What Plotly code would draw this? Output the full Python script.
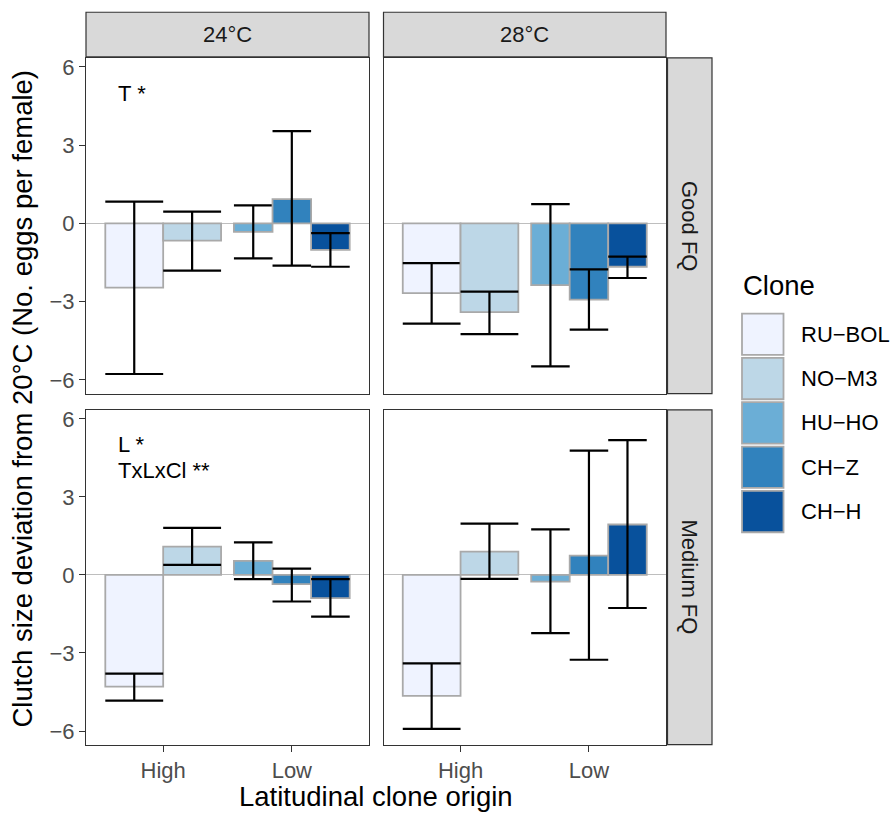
import plotly.graph_objects as go

# ---------------- data ----------------
categories = ["High", "Low"]
clones = ["RU-BOL", "NO-M3", "HU-HO", "CH-Z", "CH-H"]
clone_origin = ["High", "High", "Low", "Low", "Low"]
clone_colors = ["#EFF3FF", "#BDD7E7", "#6BAED6", "#3182BD", "#08519C"]

temps = ["24°C", "28°C"]
food = ["Good FQ", "Medium FQ"]

mean_24_good = [-2.46, -0.66, -0.32, 0.93, -1.01]
lo_24_good = [-5.77, -1.81, -1.34, -1.62, -1.66]
hi_24_good = [0.84, 0.45, 0.69, 3.54, -0.37]

mean_28_good = [-2.67, -3.40, -2.36, -2.92, -1.66]
lo_28_good = [-3.84, -4.24, -5.48, -4.07, -2.09]
hi_28_good = [-1.52, -2.61, 0.74, -1.76, -1.27]

mean_24_med = [-4.29, 1.09, 0.54, -0.35, -0.89]
lo_24_med = [-4.83, 0.39, -0.16, -1.02, -1.60]
hi_24_med = [-3.79, 1.81, 1.25, 0.24, -0.16]

mean_28_med = [-4.65, 0.90, -0.26, 0.74, 1.94]
lo_28_med = [-5.92, -0.15, -2.24, -3.26, -1.27]
hi_28_med = [-3.40, 1.97, 1.75, 4.78, 5.18]

y_ticks = [-6, -3, 0, 3, 6]
y_ticktext = ["\u22126", "\u22123", "0", "3", "6"]

panel_labels = {(0, 0): ["T *"], (1, 0): ["L *", "TxLxCl **"]}

# ---------------- layout geometry ----------------
W, H = 890, 813
col_px = [(86, 369), (383.5, 666)]
row_px = [(55, 392), (408.3, 744.3)]
x_range = [0.4, 2.6]
y_range = [-6.52, 6.35]
FONT = "Liberation Sans, Arial, Helvetica, sans-serif"
BORDER = "#333333"


def px_x(p):
    return p / W


def px_y(p):
    return 1 - p / H


panels = [
    (0, 0, mean_24_good, lo_24_good, hi_24_good),
    (0, 1, mean_28_good, lo_28_good, hi_28_good),
    (1, 0, mean_24_med, lo_24_med, hi_24_med),
    (1, 1, mean_28_med, lo_28_med, hi_28_med),
]

fig = go.Figure()
layout = dict(
    width=W, height=H, autosize=False,
    margin=dict(l=0, r=0, t=0, b=0),
    paper_bgcolor="white", plot_bgcolor="white",
    barmode="overlay", showlegend=False,
    font=dict(family=FONT),
)
annotations = []
shapes = []

for idx, (r, c, m, lo, hi) in enumerate(panels):
    i = idx + 1
    xa = "x" if i == 1 else f"x{i}"
    ya = "y" if i == 1 else f"y{i}"
    x0, x1 = col_px[c]
    y0, y1 = row_px[r]
    ppu = (x1 - x0) / (x_range[1] - x_range[0])
    for j, clone in enumerate(clones):
        grp = clone_origin[j]
        members = [k for k in range(len(clones)) if clone_origin[k] == grp]
        n = len(members)
        k = members.index(j)
        bw = 0.9 / n
        gpos = categories.index(grp) + 1
        xpos = gpos - 0.45 + bw * (k + 0.5)
        fig.add_trace(go.Bar(
            x=[xpos], y=[m[j]], width=[bw], name=clone,
            marker=dict(color=clone_colors[j], line=dict(color="#A9A9A9", width=1.8)),
            error_y=dict(type="data", symmetric=False,
                         array=[hi[j] - m[j]], arrayminus=[m[j] - lo[j]],
                         color="black", thickness=2.2, width=bw * ppu / 2),
            xaxis=xa, yaxis=ya, showlegend=False, hoverinfo="x+y",
        ))
    xkey = "xaxis" if i == 1 else f"xaxis{i}"
    ykey = "yaxis" if i == 1 else f"yaxis{i}"
    layout[xkey] = dict(
        domain=[px_x(x0), px_x(x1)], range=x_range, anchor=ya,
        tickmode="array", tickvals=[1, 2], ticktext=categories,
        showticklabels=(r == 1), ticks="outside" if r == 1 else "",
        ticklen=6, tickwidth=1.2, tickcolor=BORDER,
        tickfont=dict(size=22, color="#4D4D4D", family=FONT),
        showline=True, mirror=True, linecolor=BORDER, linewidth=1.2,
        showgrid=False, zeroline=False, fixedrange=True,
    )
    layout[ykey] = dict(
        domain=[px_y(y1), px_y(y0)], range=y_range, anchor=xa,
        tickmode="array", tickvals=y_ticks, ticktext=y_ticktext,
        showticklabels=(c == 0), ticks="outside" if c == 0 else "",
        ticklen=6, tickwidth=1.2, tickcolor=BORDER,
        tickfont=dict(size=22, color="#4D4D4D", family=FONT),
        showline=True, mirror=True, linecolor=BORDER, linewidth=1.2,
        showgrid=False, zeroline=True, zerolinecolor="#BEBEBE", zerolinewidth=1.3,
        fixedrange=True,
    )
    for li, txt in enumerate(panel_labels.get((r, c), [])):
        annotations.append(dict(
            x=0.63, y=5.0 - li, xref=xa, yref=ya, text=txt, showarrow=False,
            xanchor="left", yanchor="middle",
            font=dict(size=22, color="black", family=FONT),
        ))

# strips on top (temperature)
for c, t in enumerate(temps):
    x0, x1 = col_px[c]
    shapes.append(dict(type="rect", xref="paper", yref="paper",
                       x0=px_x(x0), x1=px_x(x1), y0=px_y(54), y1=px_y(9.3),
                       fillcolor="#D9D9D9", line=dict(color=BORDER, width=1.2)))
    annotations.append(dict(x=px_x((x0 + x1) / 2), y=px_y(31.7), xref="paper", yref="paper",
                            text=t, showarrow=False, xanchor="center", yanchor="middle",
                            font=dict(size=22, color="#1A1A1A", family=FONT)))
# strips on right (food quality)
for r, fq in enumerate(food):
    y0, y1 = row_px[r]
    shapes.append(dict(type="rect", xref="paper", yref="paper",
                       x0=px_x(667.5), x1=px_x(712), y0=px_y(y1), y1=px_y(y0),
                       fillcolor="#D9D9D9", line=dict(color=BORDER, width=1.2)))
    annotations.append(dict(x=px_x(689.7), y=px_y((y0 + y1) / 2), xref="paper", yref="paper",
                            text=fq, showarrow=False, textangle=90,
                            xanchor="center", yanchor="middle",
                            font=dict(size=22, color="#1A1A1A", family=FONT)))

# axis titles
annotations.append(dict(x=px_x(376), y=px_y(796), xref="paper", yref="paper",
                        text="Latitudinal clone origin", showarrow=False,
                        xanchor="center", yanchor="middle", borderpad=0,
                        font=dict(size=27.5, color="black", family=FONT)))
annotations.append(dict(x=px_x(23), y=px_y(397), xref="paper", yref="paper",
                        text="Clutch size deviation from 20°C (No. eggs per female)",
                        showarrow=False, textangle=-90, xanchor="center", yanchor="middle",
                        font=dict(size=27.5, color="black", family=FONT)))

# legend (drawn manually to match key size)
annotations.append(dict(x=px_x(741), y=px_y(283.5), xref="paper", yref="paper",
                        text="Clone", showarrow=False, xanchor="left", yanchor="middle",
                        font=dict(size=27.5, color="black", family=FONT)))
key_top0, key_step, key_h = 311.7, 44.5, 41.5
for j, clone in enumerate(clones):
    top = key_top0 + j * key_step
    shapes.append(dict(type="rect", xref="paper", yref="paper",
                       x0=px_x(742), x1=px_x(783.5), y0=px_y(top + key_h), y1=px_y(top),
                       fillcolor=clone_colors[j], line=dict(color="#A9A9A9", width=1.8)))
    annotations.append(dict(x=px_x(799), y=px_y(top + key_h / 2), xref="paper", yref="paper",
                            text=clone.replace("-", "\u2212"), showarrow=False,
                            xanchor="left", yanchor="middle",
                            font=dict(size=22, color="black", family=FONT)))

layout["annotations"] = annotations
layout["shapes"] = shapes
fig.update_layout(**layout)
fig.write_html(
    "out.html",
    config={"displayModeBar": False},
    post_script=(
        "document.body.style.margin='0';document.body.style.padding='0';"
        "document.documentElement.style.overflow='hidden';document.body.style.overflow='hidden';"
    ),
)
